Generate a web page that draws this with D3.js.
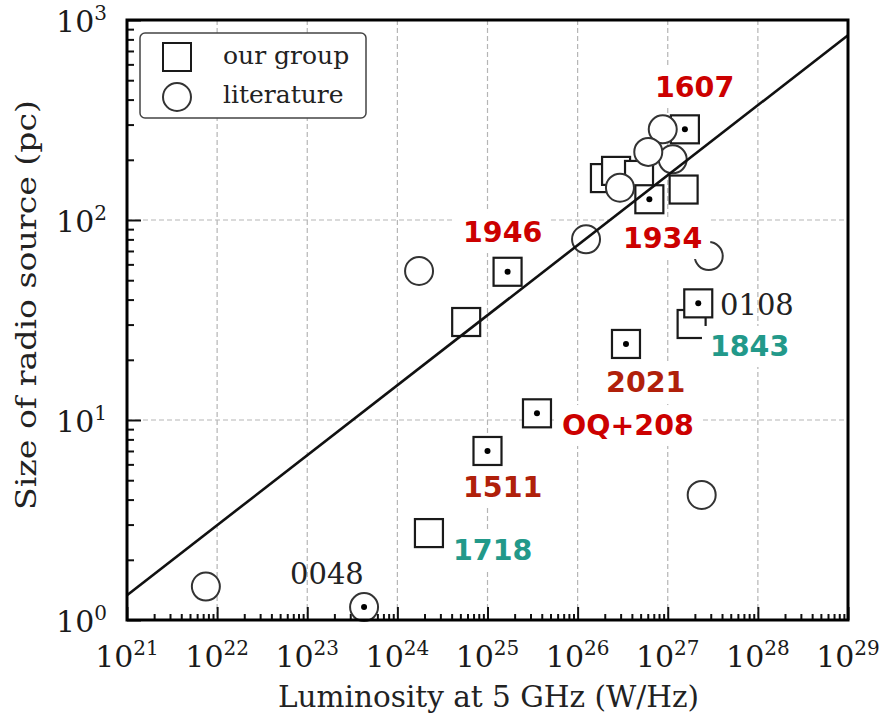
<!DOCTYPE html>
<html>
<head>
<meta charset="utf-8">
<script src="https://cdn.jsdelivr.net/npm/d3@7"></script>
<style>
  body { margin: 0; background: #fff; }
  text { font-family: "DejaVu Serif", serif; }
</style>
</head>
<body>
<div id="chart"></div>
<script>
// our group (squares); dot marks the sources studied here
var groupLum = [5.8e24, 1.67e25, 3.44e26, 1.84e27, 2.18e27, 3.54e25, 1.0e25, 2.24e24, 1.55e27, 2.01e26, 2.67e26, 4.8e26, 6.25e26, 1.5e27];
var groupSize = [30.9, 55.1, 24.0, 30.2, 38.3, 10.8, 7.0, 2.72, 284, 162, 176, 168, 127, 142];
var groupDot = [0, 1, 1, 0, 1, 1, 1, 0, 1, 0, 0, 0, 1, 0];

// literature (circles)
var litLum = [1.135e27, 8.8e26, 6.08e26, 2.95e26, 1.24e26, 2.85e27, 1.74e24, 2.38e27, 7.5e21, 4.27e23];
var litSize = [201, 284, 219, 145, 80.1, 66, 55.6, 4.22, 1.47, 1.16];
var litDot = [0, 0, 0, 0, 0, 0, 0, 0, 0, 1];

// fit line  S = fitNorm * (L / 1e21) ^ fitSlope
var fitNorm = 1.33;
var fitSlope = 0.35;

var xTicks = [1e21, 1e22, 1e23, 1e24, 1e25, 1e26, 1e27, 1e28, 1e29];
var xTickExp = ["21", "22", "23", "24", "25", "26", "27", "28", "29"];
var yTicks = [1, 10, 100, 1000];
var yTickExp = ["0", "1", "2", "3"];

// source names, placed in data coordinates (left edge, baseline)
var labelText = ["1607", "1934", "1946", "2021", "OQ+208", "1511", "1718", "1843", "0108", "0048"];
var labelLum = [7.2e26, 3.18e26, 5.35e24, 2.07e26, 6.71e25, 5.35e24, 4.14e24, 2.94e27, 3.8e27, 6.44e22];
var labelSize = [412, 72.4, 77.6, 13.8, 8.41, 4.12, 2.0, 20.9, 33.5, 1.51];
var labelKind = ["red", "red", "red", "dark", "red", "dark", "teal", "teal", "plain", "plain"];

var kindColor = {red: "#cc0000", dark: "#b0200a", teal: "#22998a", plain: "#222"};

var svgWidth = 883;
var svgHeight = 715;
var margin = {top: 20, right: 35, bottom: 95, left: 127};
var width = svgWidth - margin.left - margin.right;
var height = svgHeight - margin.top - margin.bottom;

var svg = d3.select("#chart").append("svg")
  .attr("width", svgWidth)
  .attr("height", svgHeight);

var chartGroup = svg.append("g")
  .attr("transform", `translate(${margin.left}, ${margin.top})`);

var x = d3.scaleLog().domain([1e21, 1e29]).range([0, width]);
var y = d3.scaleLog().domain([1, 1000]).range([height, 0]);

function minors(lo, hi) {
  var out = [];
  for (var e = lo; e < hi; e++) {
    for (var k = 2; k <= 9; k++) out.push(k * Math.pow(10, e));
  }
  return out;
}

// grid
chartGroup.append("g").selectAll("line")
  .data(xTicks.slice(1, -1))
  .enter().append("line")
  .attr("x1", d => x(d)).attr("x2", d => x(d))
  .attr("y1", 0).attr("y2", height)
  .attr("stroke", "#b5b5b5").attr("stroke-width", 1.2)
  .attr("stroke-dasharray", "5,3");

chartGroup.append("g").selectAll("line")
  .data(yTicks.slice(1, -1))
  .enter().append("line")
  .attr("y1", d => y(d)).attr("y2", d => y(d))
  .attr("x1", 0).attr("x2", width)
  .attr("stroke", "#b5b5b5").attr("stroke-width", 1.2)
  .attr("stroke-dasharray", "5,3");

// axes, ticks pointing inward
chartGroup.append("g")
  .attr("transform", `translate(0, ${height})`)
  .call(d3.axisBottom(x).tickValues(minors(21, 29)).tickSize(-6).tickFormat(""));
chartGroup.append("g")
  .attr("transform", `translate(0, ${height})`)
  .call(d3.axisBottom(x).tickValues(xTicks).tickSize(-13).tickFormat(""));
chartGroup.append("g")
  .call(d3.axisLeft(y).tickValues(minors(0, 3)).tickSize(-7).tickFormat(""));
chartGroup.append("g")
  .call(d3.axisLeft(y).tickValues(yTicks).tickSize(-14).tickFormat(""));

chartGroup.selectAll(".domain").remove();
chartGroup.selectAll(".tick line").attr("stroke", "#111").attr("stroke-width", 2);

// tick labels 10^n
xTicks.forEach(function(t, i) {
  var lab = chartGroup.append("text")
    .attr("x", x(t)).attr("y", height + 47)
    .attr("text-anchor", "middle")
    .attr("fill", "#1a1a1a")
    .style("font-size", "30px");
  lab.append("tspan").text("10");
  lab.append("tspan").attr("dy", -12).style("font-size", "20px").text(xTickExp[i]);
});

yTicks.forEach(function(t, i) {
  var lab = chartGroup.append("text")
    .attr("x", -20).attr("y", y(t) + 12)
    .attr("text-anchor", "end")
    .attr("fill", "#1a1a1a")
    .style("font-size", "30px");
  lab.append("tspan").text("10");
  lab.append("tspan").attr("dy", -12).style("font-size", "20px").text(yTickExp[i]);
});

// axis titles
chartGroup.append("text")
  .attr("x", width / 2 + 1).attr("y", height + 87)
  .attr("text-anchor", "middle")
  .attr("fill", "#222")
  .style("font-size", "29.5px")
  .text("Luminosity at 5 GHz (W/Hz)");

chartGroup.append("text")
  .attr("transform", `translate(${-91}, ${height / 2 - 15}) rotate(-90)`)
  .attr("text-anchor", "middle")
  .attr("fill", "#222")
  .attr("textLength", 410)
  .attr("lengthAdjust", "spacingAndGlyphs")
  .style("font-size", "27px")
  .text("Size of radio source (pc)");

// markers
var half = 14;
var groupData = groupLum.map((d, i) => ({L: d, S: groupSize[i], dot: groupDot[i]}));
var litData = litLum.map((d, i) => ({L: d, S: litSize[i], dot: litDot[i]}));

chartGroup.append("g").selectAll("rect")
  .data(groupData)
  .enter().append("rect")
  .attr("x", d => x(d.L) - half)
  .attr("y", d => y(d.S) - half)
  .attr("width", 2 * half).attr("height", 2 * half)
  .attr("fill", "#fff")
  .attr("stroke", "#1a1a1a").attr("stroke-width", 2.2);

chartGroup.append("g").selectAll("circle")
  .data(litData)
  .enter().append("circle")
  .attr("cx", d => x(d.L))
  .attr("cy", d => y(d.S))
  .attr("r", half)
  .attr("fill", "#fff")
  .attr("stroke", "#333").attr("stroke-width", 2);

chartGroup.append("g").selectAll("circle")
  .data(groupData.concat(litData).filter(d => d.dot))
  .enter().append("circle")
  .attr("cx", d => x(d.L))
  .attr("cy", d => y(d.S))
  .attr("r", 3)
  .attr("fill", "#000");

// fit line
var fitLine = d3.line()
  .x(d => x(d))
  .y(d => y(fitNorm * Math.pow(d / 1e21, fitSlope)));
chartGroup.append("path")
  .datum([1e21, 1e29])
  .attr("d", fitLine)
  .attr("fill", "none")
  .attr("stroke", "#111")
  .attr("stroke-width", 2.6);

// source labels
labelText.forEach(function(s, i) {
  var kind = labelKind[i];
  var g = chartGroup.append("g");
  var t = g.append("text")
    .attr("x", x(labelLum[i]))
    .attr("y", y(labelSize[i]))
    .attr("fill", kindColor[kind])
    .text(s);
  if (kind === "plain") {
    t.style("font-size", "29px");
  } else {
    t.style("font-family", "'DejaVu Sans', sans-serif")
      .style("font-weight", "bold")
      .style("font-size", "28.5px");
    var b = t.node().getBBox();
    g.insert("rect", "text")
      .attr("x", b.x - 8).attr("y", b.y - 4)
      .attr("width", b.width + 16).attr("height", b.height + 8)
      .attr("fill", "#fff");
  }
});

// frame
chartGroup.append("rect")
  .attr("width", width).attr("height", height)
  .attr("fill", "none")
  .attr("stroke", "#000").attr("stroke-width", 3);

// legend
var legend = chartGroup.append("g").attr("transform", "translate(13, 13)");
legend.append("rect")
  .attr("width", 226).attr("height", 85).attr("rx", 5)
  .attr("fill", "#fff").attr("stroke", "#444").attr("stroke-width", 1.5);
legend.append("rect")
  .attr("x", 37 - half).attr("y", 24 - half)
  .attr("width", 2 * half).attr("height", 2 * half)
  .attr("fill", "#fff").attr("stroke", "#1a1a1a").attr("stroke-width", 2);
legend.append("circle")
  .attr("cx", 37).attr("cy", 64).attr("r", half)
  .attr("fill", "#fff").attr("stroke", "#333").attr("stroke-width", 2);
legend.append("text")
  .attr("x", 83).attr("y", 31)
  .attr("fill", "#222").style("font-size", "25px")
  .text("our group");
legend.append("text")
  .attr("x", 83).attr("y", 70)
  .attr("fill", "#222").style("font-size", "25px")
  .text("literature");
</script>
</body>
</html>
